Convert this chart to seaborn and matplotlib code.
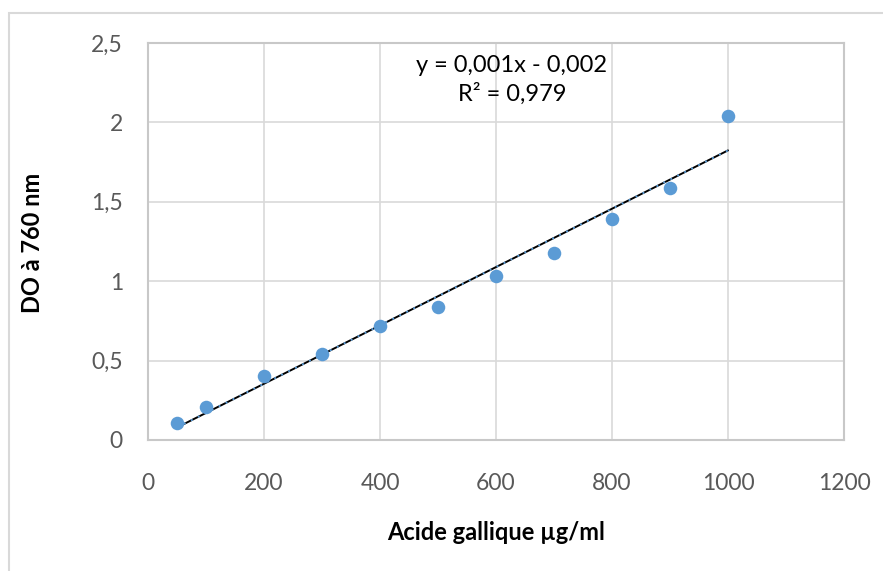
import numpy as np
import pandas as pd
import seaborn as sns
import matplotlib.pyplot as plt
from matplotlib.patches import Rectangle

concentration = [50, 100, 200, 300, 400, 500, 600, 700, 800, 900, 1000]
absorbance = [0.11, 0.21, 0.40, 0.54, 0.72, 0.84, 1.03, 1.18, 1.39, 1.59, 2.04]
x_ticks = [0, 200, 400, 600, 800, 1000, 1200]
y_ticks = [0, 0.5, 1, 1.5, 2, 2.5]
y_tick_labels = ['0', '0,5', '1', '1,5', '2', '2,5']
equation_text = 'y = 0,001x - 0,002\nR² = 0,979'

df = pd.DataFrame({'conc': concentration, 'do': absorbance})

sns.set_theme(style='white')
plt.rcParams['font.family'] = ['Lato', 'DejaVu Sans']

fig = plt.figure(figsize=(8.83, 5.71), dpi=100)
ax = fig.add_axes([148 / 883, 1 - 440 / 571, (844 - 148) / 883, (440 - 43) / 571])

# outer chart frame
fig.patches.append(Rectangle((9 / 883, -0.05), 1.2, 1 - 13 / 571 + 0.05,
                             transform=fig.transFigure, fill=False,
                             edgecolor='#d9d9d9', lw=1.5, zorder=0))

# linear trendline
slope, intercept = np.polyfit(df['conc'], df['do'], 1)
xs = np.array([df['conc'].min(), df['conc'].max()])
ax.plot(xs, slope * xs + intercept, color='black', lw=1.4, zorder=3)
ax.plot(xs, slope * xs + intercept, color='#5b9bd5', lw=1.4, ls=(0, (1, 3)), zorder=4)

sns.scatterplot(data=df, x='conc', y='do', ax=ax, color='#5b9bd5', s=95,
                edgecolor='#5b9bd5', linewidth=0, zorder=5)

ax.set_xlim(0, 1200)
ax.set_ylim(0, 2.5)
ax.set_xticks(x_ticks)
ax.set_yticks(y_ticks)
ax.set_yticklabels(y_tick_labels)
ax.grid(True, color='#d9d9d9', lw=1.2)
ax.set_axisbelow(True)
for s in ax.spines.values():
    s.set_color('#c8c8c8')
    s.set_linewidth(1.5)
ax.tick_params(axis='both', length=0, labelsize=16.5, labelcolor='#595959')
ax.tick_params(axis='x', pad=24)
ax.tick_params(axis='y', pad=18)

ax.set_xlabel('')
ax.set_ylabel('')
fig.text(496 / 883, 1 - 532 / 571, 'Acide gallique µg/ml', ha='center', va='center',
         fontsize=17, fontweight='bold', color='black')
fig.text(33 / 883, 1 - 243 / 571, 'DO à 760 nm', ha='center', va='center',
         rotation=90, fontsize=17, fontweight='bold', color='black')
fig.text(512 / 883, 1 - 80 / 571, equation_text, ha='center', va='center',
         fontsize=17, color='black', linespacing=1.4)

fig.savefig('out.png', dpi=100)
